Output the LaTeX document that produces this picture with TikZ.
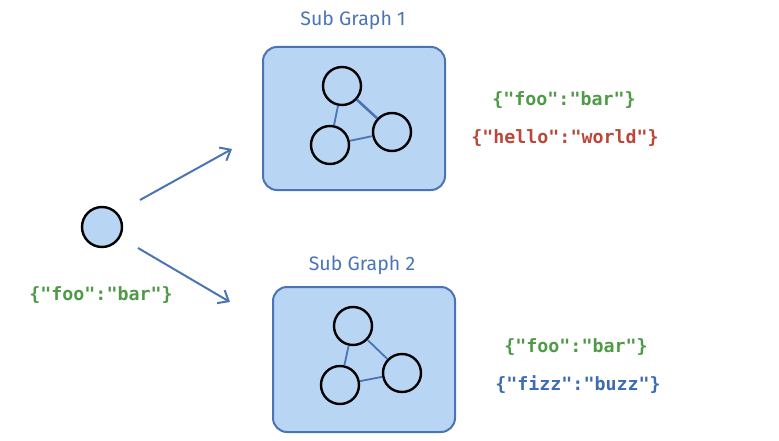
\documentclass[tikz,border=0pt]{standalone}
\usepackage{fontspec}
\setmonofont{DejaVu Sans Mono}
\setsansfont{Fira Sans}
\usetikzlibrary{arrows.meta}
\definecolor{boxblue}{HTML}{B8D5F4}
\definecolor{lineblue}{HTML}{4A74B6}
\definecolor{jsongreen}{HTML}{4E9A46}
\definecolor{jsonred}{HTML}{B9473A}
\definecolor{jsonblue}{HTML}{3C6CB4}
\tikzset{
  GroupStyle/.style = { draw=lineblue, fill=boxblue, line width=2pt,
                        rounded corners=14pt, minimum width=182pt,
                        minimum height=143pt },
  VertexStyle/.style = { circle, draw=black, line width=2.4pt,
                         minimum size=38pt, inner sep=0pt },
  EdgeStyle/.style = { draw=lineblue, line width=1.8pt },
  ArrowStyle/.style = { draw=lineblue, line width=2pt,
                        -{Straight Barb[length=9pt,width=15pt]} },
  TitleStyle/.style = { text=lineblue, font=\sffamily\fontsize{19.5}{22}\selectfont },
  JsonStyle/.style = { font=\ttfamily\bfseries\fontsize{18.3}{21}\selectfont }
}
\begin{document}
\begin{tikzpicture}[x=1pt,y=-1pt]
  \useasboundingbox (0,0) rectangle (779,441);

  \node[TitleStyle](T1) at (353,20) {Sub Graph 1};
  \node[GroupStyle](SG1) at (354,118.5) {};
  \node[VertexStyle](A1) at (342,86) {};
  \node[VertexStyle](B1) at (330,145) {};
  \node[VertexStyle](C1) at (392,132) {};

  \node[TitleStyle](T2) at (362,265) {Sub Graph 2};
  \node[GroupStyle, minimum height=145pt](SG2) at (364,359.5) {};
  \node[VertexStyle](A2) at (353,326) {};
  \node[VertexStyle](B2) at (340,385) {};
  \node[VertexStyle](C2) at (402,373) {};

  \draw[EdgeStyle] (A1) -- (B1);
  \draw[EdgeStyle, line width=2.6pt] (A1) -- (C1);
  \draw[EdgeStyle] (B1) -- (C1);
  \draw[EdgeStyle] (A2) -- (B2);
  \draw[EdgeStyle] (A2) -- (C2);
  \draw[EdgeStyle] (B2) -- (C2);

  \node[VertexStyle, fill=boxblue, minimum size=40pt](SRC) at (102,227) {};
  \node[JsonStyle, text=jsongreen](SRCJ) at (101,295) {\{"foo":"bar"\}};

  \coordinate (U0) at (140,200);
  \coordinate (U1) at (232,149);
  \coordinate (D0) at (138,248);
  \coordinate (D1) at (230,302);
  \draw[ArrowStyle] (U0) -- (U1);
  \draw[ArrowStyle] (D0) -- (D1);

  \node[JsonStyle, text=jsongreen](J1a) at (564,100) {\{"foo":"bar"\}};
  \node[JsonStyle, text=jsonred](J1b) at (565,138) {\{"hello":"world"\}};
  \node[JsonStyle, text=jsongreen](J2a) at (576,347) {\{"foo":"bar"\}};
  \node[JsonStyle, text=jsonblue](J2b) at (578,385) {\{"fizz":"buzz"\}};
\end{tikzpicture}
\end{document}
